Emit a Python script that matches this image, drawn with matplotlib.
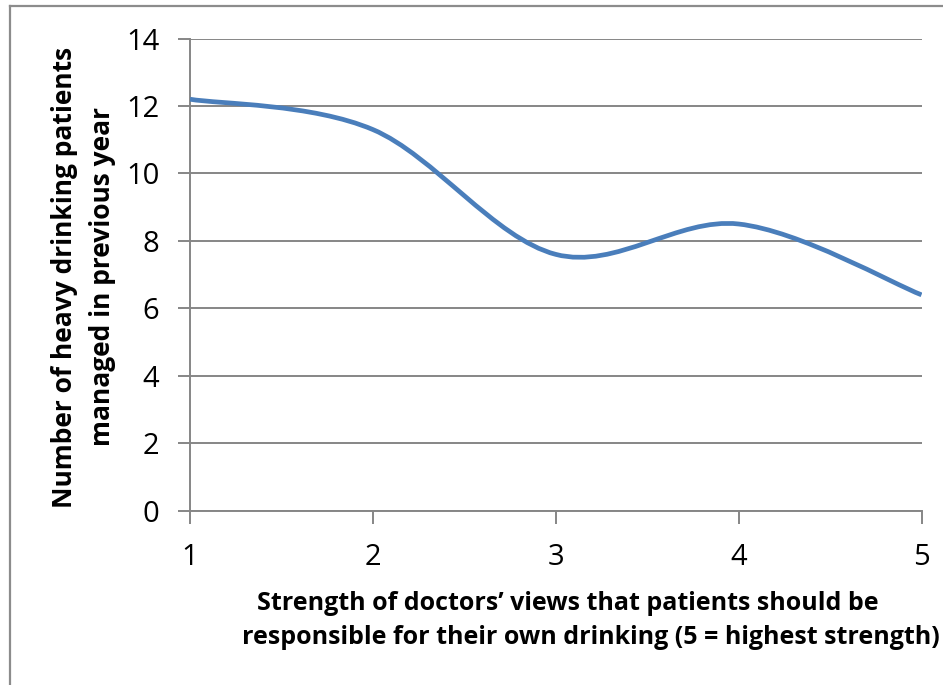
import matplotlib
matplotlib.use("Agg")
import matplotlib.pyplot as plt
from matplotlib.path import Path
from matplotlib.patches import PathPatch
from matplotlib.lines import Line2D

# Data
strength = [1, 2, 3, 4, 5]
patients = [12.2, 11.3, 7.6, 8.5, 6.4]
y_ticks = [0, 2, 4, 6, 8, 10, 12, 14]
x_ticks = [1, 2, 3, 4, 5]

x_label_lines = ["Strength of doctors\u2019 views that patients should be",
                 "responsible for their own drinking (5 = highest strength)"]
y_label_lines = ["Number of heavy drinking patients",
                 "managed in previous year"]

plt.rcParams["font.family"] = ["Open Sans", "DejaVu Sans"]

GRID = "#868686"
LINE = "#4A7EBB"

fig = plt.figure(figsize=(9.43, 6.85), dpi=100)
ax = fig.add_axes([190 / 943, 1 - 510.7 / 685, (921.5 - 190) / 943, (510.7 - 38.5) / 685])

# Smoothed line: cubic Bezier segments through the data points
pts = list(zip(strength, patients))
n = len(pts)
verts = [pts[0]]
codes = [Path.MOVETO]
for i in range(n - 1):
    p0 = pts[max(i - 1, 0)]
    p1 = pts[i]
    p2 = pts[i + 1]
    p3 = pts[min(i + 2, n - 1)]
    c1 = (p1[0] + (p2[0] - p0[0]) / 6, p1[1] + (p2[1] - p0[1]) / 6)
    c2 = (p2[0] - (p3[0] - p1[0]) / 6, p2[1] - (p3[1] - p1[1]) / 6)
    verts += [c1, c2, p2]
    codes += [Path.CURVE4] * 3
ax.add_patch(PathPatch(Path(verts, codes), facecolor="none", edgecolor=LINE,
                       lw=3.4, capstyle="butt", zorder=3))

ax.set_xlim(1, 5)
ax.set_ylim(0, 14)
ax.set_xticks(x_ticks)
ax.set_yticks(y_ticks)
ax.yaxis.grid(True, color=GRID, lw=1.4)
ax.set_axisbelow(True)
for s in ["top", "right"]:
    ax.spines[s].set_visible(False)
for s in ["left", "bottom"]:
    ax.spines[s].set_color(GRID)
    ax.spines[s].set_linewidth(1.4)
ax.tick_params(axis="both", colors=GRID, width=1.4, length=9, direction="out",
               labelcolor="black", labelsize=21)
ax.tick_params(axis="x", pad=14)
ax.tick_params(axis="y", pad=13)

# Axis titles
fig.text(568 / 943, 1 - 603 / 685, x_label_lines[0], ha="center", va="center",
         fontsize=18, fontweight="bold")
fig.text(591 / 943, 1 - 637 / 685, x_label_lines[1], ha="center", va="center",
         fontsize=18, fontweight="bold")
fig.text(65 / 943, 1 - 277 / 685, y_label_lines[0], ha="center", va="center",
         rotation=90, fontsize=19, fontweight="bold")
fig.text(103 / 943, 1 - 277 / 685, y_label_lines[1], ha="center", va="center",
         rotation=90, fontsize=19, fontweight="bold")

# Chart frame (left and top edges)
fig.add_artist(Line2D([9.5 / 943, 9.5 / 943], [0, 1 - 5.5 / 685], transform=fig.transFigure,
                      color="#8c8c8c", lw=1.6))
fig.add_artist(Line2D([9.5 / 943, 1], [1 - 5.5 / 685, 1 - 5.5 / 685], transform=fig.transFigure,
                      color="#8c8c8c", lw=1.6))

fig.savefig("out.png", dpi=100, facecolor="white")
